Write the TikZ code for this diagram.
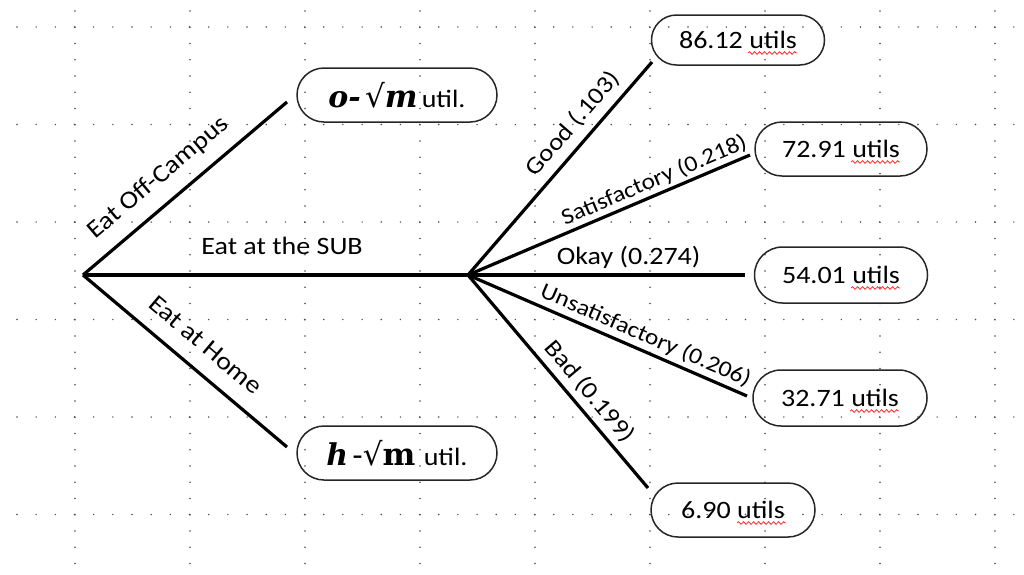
\documentclass[tikz,border=0pt]{standalone}
\usepackage{fontspec}
\setmainfont{Carlito}[FakeStretch=1.12]
\newfontfamily\eqfont{DejaVu Serif}
\usetikzlibrary{shapes.misc,decorations.pathmorphing}
\begin{document}
\begin{tikzpicture}[x=1pt,y=-1pt,
		griddot/.style={fill=black!70},
		branch/.style={line width=3.2pt},
		payoff/.style={draw=black!85,line width=1.5pt,rounded rectangle,minimum height=54pt,inner sep=0pt,font=\fontsize{25}{30}\selectfont},
		lbl/.style={inner sep=0pt,text depth=0pt,font=\fontsize{25}{30}\selectfont},
		lblsmall/.style={lbl,font=\fontsize{22.7}{27}\selectfont},
		squiggle/.style={draw=red!85,line width=0.8pt,decorate,decoration={snake,amplitude=1.3pt,segment length=5pt}}]
	\useasboundingbox (0,0) rectangle (1024,574);
	\foreach \k in {0,...,5}
		\foreach \i in {0,...,52}
			\fill[griddot] ({17+19.17*\i},{27+97.5*\k}) circle(0.8);
	\foreach \j in {0,...,8}
		\foreach \i in {0,...,34}
			\fill[griddot] ({75+115*\j},{11+16.25*\i}) circle(0.8);
	\coordinate (root) at (83,275);
	\coordinate (chance) at (468,275);
	\coordinate (offEnd) at (287,102);
	\coordinate (homeEnd) at (287,447);
	\coordinate (goodEnd) at (652,62);
	\coordinate (satEnd) at (750,155);
	\coordinate (okayEnd) at (745,275);
	\coordinate (unsatEnd) at (747,396);
	\coordinate (badEnd) at (648,488);
	\node[payoff,minimum width=200pt] (offBox) at (397,95) {{\eqfont\fontsize{30}{34}\selectfont\bfseries\itshape o-}\,{\eqfont\fontsize{31}{34}\selectfont √{\bfseries\itshape m}}\,util.};
	\node[payoff,minimum width=200pt] (homeBox) at (397,453) {{\eqfont\fontsize{30}{34}\selectfont\bfseries\itshape h}\,{\eqfont\fontsize{31}{34}\selectfont -√\bfseries m}\,\,util.};
	\node[payoff,minimum width=173pt,minimum height=50pt] (goodBox) at (738,40) {86.12 utils};
	\node[payoff,minimum width=172pt] (satBox) at (841,149) {72.91 utils};
	\node[payoff,minimum width=173pt,minimum height=56pt] (okayBox) at (841,275) {54.01 utils};
	\node[payoff,minimum width=174pt,minimum height=56pt] (unsatBox) at (840,398) {32.71 utils};
	\node[payoff,minimum width=164pt] (badBox) at (733,510) {6.90 utils};
	\foreach \b in {goodBox,satBox,okayBox,unsatBox}
		\draw[squiggle] ([shift={(10,13)}]\b.center) -- ++(49,0);
	\draw[squiggle] ([shift={(4,13)}]badBox.center) -- ++(49,0);
	\draw[branch] (root) -- node[lbl,sloped,above=17pt,pos=0.45]{Eat Off-Campus} (offEnd);
	\draw[branch] (root) -- node[lbl,above=19pt,pos=0.517]{Eat at the SUB} (chance);
	\draw[branch] (root) -- node[lbl,sloped,above=16pt,pos=0.52]{Eat at Home} (homeEnd);
	\draw[branch] (chance) -- node[lbl,sloped,above=11pt,pos=0.65,font=\fontsize{24}{28}\selectfont]{Good (.103)} (goodEnd);
	\draw[branch] (chance) -- node[lblsmall,sloped,above=6pt,pos=0.68]{Satisfactory (0.218)} (satEnd);
	\draw[branch] (chance) -- node[lbl,above=9pt,pos=0.58]{Okay (0.274)} (okayEnd);
	\draw[branch] (chance) -- node[lblsmall,sloped,above=7pt,pos=0.615]{Unsatisfactory (0.206)} (unsatEnd);
	\draw[branch] (chance) -- node[lbl,sloped,above=9pt,pos=0.6,font=\fontsize{24}{28}\selectfont]{Bad (0.199)} (badEnd);
\end{tikzpicture}
\end{document}
